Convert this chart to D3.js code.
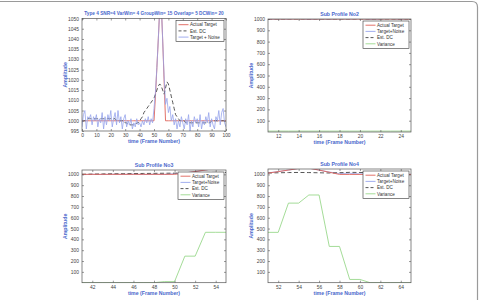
<!DOCTYPE html>
<html>
<head>
<meta charset="utf-8">
<script src="https://cdn.jsdelivr.net/npm/d3@7"></script>
<style>
  body { margin: 0; background: #fff; }
  svg { display: block; font-family: "Liberation Sans", Arial, sans-serif; }
</style>
</head>
<body>
<div id="chart-div"></div>
<script>
// frame numbers of the full profile
const frames = d3.range(0, 101);

// actual target, full profile 0..100
const actualTarget = [
  1000,1000,1000,1000,1000,1000,1000,1000,1000,1000,
  1000,1000,1000,1000,1000,1000,1000,1000,1000,1000,
  1000,1000,1000,1000,1000,1000,1000,1000,1000,1000,
  1000,1000,1000,1000,1000,1000,1000,1000,1000,1000,
  1000,1000,1000,1000,1000,1000,1000,1000,1000,1000,
  1000,1012,1026,1040,1055,1058,1040,1020,1000,1000,
  1000,1000,1000,1000,1000,1000,1000,1000,1000,1000,
  1000,1000,1000,1000,1000,1000,1000,1000,1000,1000,
  1000,1000,1000,1000,1000,1000,1000,1000,1000,1000,
  1000,1000,1000,1000,1000,1000,1000,1000,1000,1000,
  1000
];

// target + noise
const targetNoise = [
  997,1003,1005,996,1002,1001,1003,998,1002,1000,
  1003,997,1001,999,1004,996,1002,998,1003,1000,
  1005,997,1001,1004,998,1005,999,1002,996,1001,
  1003,997,1000,998,1001,996,999,997,1001,998,
  999,997,1000,998,1001,999,1002,998,1001,999,
  1006,1014,1026,1040,1055,1058,1040,1022,1008,1011,
  1004,1007,1000,1003,998,1001,996,1000,997,1002,
  999,996,1001,998,1003,995,1000,997,1002,999,
  1001,997,1003,996,1000,998,1002,999,1004,997,
  1001,998,996,1002,1000,1005,998,1004,1006,999,
  997
];

// estimated DC
const estDC = [
  1000,1000,1000,1000,1001,1001,1001,1001,1001,1001,
  1001,1001,1001,1001,1001,1001,1001,1001,1001,1001,
  1001,1001,1001,1001,1000,1000,1000,1000,1000,1000,
  999,999,998,998,998,998,998,998,999,999,
  1000,1001,1002,1004,1005,1006,1007,1008,1009,1010,
  1011,1013,1015,1017,1018,1017,1015,1013,1016,1019,
  1018,1015,1012,1009,1006,1003,1002,1001,1000,1000,
  1000,1000,999,999,999,999,999,999,999,999,
  999,999,999,999,999,999,999,999,999,999,
  1000,1000,1000,1000,1000,1000,1000,1000,1000,1000,
  1000
];

// variance for sub profiles
const framesNo2 = d3.range(11, 26);
const varianceNo2 = [8,8,8,8,8,8,8,8,8,8,8,8,8,8,8];
const framesNo3 = d3.range(41, 56);
const varianceNo3 = [0,0,0,0,0,0,0,0,10,10,245,245,465,465,465];
const framesNo4 = d3.range(51, 66);
const varianceNo4 = [465,465,735,735,810,810,335,335,30,30,0,0,0,0,0];

// tick labels
const ticksMainX = d3.range(0, 101, 10);
const ticksMainY = d3.range(995, 1051, 5);
const ticksSubY = d3.range(100, 1001, 100);
const ticksNo2X = [12, 14, 16, 18, 20, 22, 24];
const ticksNo3X = [42, 44, 46, 48, 50, 52, 54];
const ticksNo4X = [52, 54, 56, 58, 60, 62, 64];

const colRed = "#df6258", colBlue = "#97a5ec", colGreen = "#9ad88c", colDash = "#444";
const labelBlue = "#4a68cc";

const width = 483, height = 300;
const svg = d3.select("#chart-div").append("svg")
  .attr("width", width).attr("height", height);

// figure frame (top & right edge with rounded corner)
svg.append("path")
  .attr("d", "M0,1.5 H472 Q477.5,1.5 477.5,7 V300")
  .attr("fill", "none").attr("stroke", "#9a9a9a").attr("stroke-width", 1.2);

function slice(arr, fr, from, to) {
  return fr.map((f, i) => [f, arr[i]]).filter(d => d[0] >= from && d[0] <= to);
}

let clipId = 0;
function panel(cfg) {
  const x = d3.scaleLinear().domain(cfg.xDomain).range([cfg.left, cfg.right]);
  const y = d3.scaleLinear().domain(cfg.yDomain).range([cfg.bottom, cfg.top]);
  const g = svg.append("g");
  const id = "clip" + (clipId++);
  g.append("clipPath").attr("id", id).append("rect")
    .attr("x", cfg.left).attr("y", cfg.top)
    .attr("width", cfg.right - cfg.left).attr("height", cfg.bottom - cfg.top);

  const line = d3.line().x(d => x(d[0])).y(d => y(d[1]));
  const plot = g.append("g").attr("clip-path", `url(#${id})`);
  cfg.series.forEach(s => {
    plot.append("path").datum(s.data)
      .attr("d", line).attr("fill", "none")
      .attr("stroke", s.color).attr("stroke-width", s.width || 0.9)
      .attr("stroke-dasharray", s.dash || null);
  });

  // axes, MATLAB style ticks inside
  const axL = d3.axisLeft(y).tickValues(cfg.yTicks).tickSize(-2).tickPadding(3).tickFormat(d3.format("d"));
  const axR = d3.axisRight(y).tickValues(cfg.yTicks).tickSize(-2).tickFormat("");
  const axB = d3.axisBottom(x).tickValues(cfg.xTicks).tickSize(-2).tickPadding(3).tickFormat(d3.format("d"));
  const axT = d3.axisTop(x).tickValues(cfg.xTicks).tickSize(-2).tickFormat("");
  [[axL, `translate(${cfg.left},0)`], [axR, `translate(${cfg.right},0)`],
   [axB, `translate(0,${cfg.bottom})`], [axT, `translate(0,${cfg.top})`]].forEach(([ax, t]) => {
    const a = g.append("g").attr("transform", t).call(ax);
    a.select(".domain").remove();
    a.selectAll("line").attr("stroke", "#555").attr("stroke-width", 0.6);
    a.selectAll("text").attr("font-size", 4.9).attr("fill", "#444").attr("font-family", null);
  });
  g.append("rect").attr("x", cfg.left).attr("y", cfg.top)
    .attr("width", cfg.right - cfg.left).attr("height", cfg.bottom - cfg.top)
    .attr("fill", "none").attr("stroke", "#555").attr("stroke-width", 0.7);

  // title and labels
  const cx = (cfg.left + cfg.right) / 2;
  g.append("text").attr("x", cx).attr("y", cfg.top - 3.5).attr("text-anchor", "middle")
    .attr("font-size", cfg.titleSize || 5.2).attr("font-weight", "bold").attr("fill", labelBlue)
    .text(cfg.title);
  g.append("text").attr("x", cx).attr("y", cfg.bottom + 12).attr("text-anchor", "middle")
    .attr("font-size", 5.2).attr("font-weight", "bold").attr("fill", labelBlue)
    .text("time (Frame Number)");
  g.append("text")
    .attr("transform", `translate(${cfg.left - 15},${(cfg.top + cfg.bottom) / 2}) rotate(-90)`)
    .attr("text-anchor", "middle").attr("font-size", 5.2).attr("font-weight", "bold").attr("fill", labelBlue)
    .text("Amplitude");

  // legend
  const lg = cfg.legend;
  const rowH = 6.2;
  const lgH = lg.items.length * rowH + 2.5;
  const lgx = cfg.right - 2 - lg.w;
  const lgy = cfg.top + 2;
  g.append("rect").attr("x", lgx).attr("y", lgy).attr("width", lg.w).attr("height", lgH)
    .attr("fill", "#fff").attr("stroke", "#333").attr("stroke-width", 0.6);
  lg.items.forEach((it, i) => {
    const yy = lgy + 4.2 + i * rowH;
    g.append("line").attr("x1", lgx + 2.5).attr("x2", lgx + 12.5).attr("y1", yy).attr("y2", yy)
      .attr("stroke", it.color).attr("stroke-width", 0.9).attr("stroke-dasharray", it.dash || null);
    g.append("text").attr("x", lgx + 14).attr("y", yy + 1.7)
      .attr("font-size", 4.6).attr("fill", "#333").text(it.name);
  });
}

const legendSub = [
  { name: "Actual Target", color: colRed },
  { name: "Target+Noise", color: colBlue },
  { name: "Est. DC", color: colDash, dash: "3,2" },
  { name: "Variance", color: colGreen }
];

// main profile
panel({
  left: 82, right: 226, top: 18.5, bottom: 131,
  xDomain: [0, 100], yDomain: [995, 1050],
  xTicks: ticksMainX, yTicks: ticksMainY,
  title: "Type 4 SNR=4 VarWin= 4 GroupWin= 15 Overlap= 5 DCWin= 20", titleSize: 4.7,
  series: [
    { data: slice(actualTarget, frames, 0, 100), color: colRed },
    { data: slice(estDC, frames, 0, 100), color: colDash, dash: "4,2.5" },
    { data: slice(targetNoise, frames, 0, 100), color: colBlue, width: 0.8 }
  ],
  legend: { w: 48, items: [
    { name: "Actual Target", color: colRed },
    { name: "Est. DC", color: colDash, dash: "3,2" },
    { name: "Target + Noise", color: colBlue }
  ] }
});

function subPanel(box, fr, variance, xTicks, yMax, title) {
  const [a, b] = [fr[0], fr[fr.length - 1]];
  panel(Object.assign({}, box, {
    xDomain: [a, b], yDomain: [0, yMax],
    xTicks: xTicks, yTicks: ticksSubY, title: title,
    series: [
      { data: fr.map((f, i) => [f, variance[i]]), color: colGreen },
      { data: slice(targetNoise, frames, a, b), color: colBlue, width: 0.8 },
      { data: slice(estDC, frames, a, b), color: colDash, dash: "4,2.5" },
      { data: slice(actualTarget, frames, a, b), color: colRed }
    ],
    legend: { w: 46, items: legendSub }
  }));
}

subPanel({ left: 268, right: 411, top: 19, bottom: 132 }, framesNo2, varianceNo2, ticksNo2X, 1000, "Sub Profile No2");
subPanel({ left: 82, right: 226, top: 170, bottom: 282.7 }, framesNo3, varianceNo3, ticksNo3X, 1040, "Sub Profile No3");
subPanel({ left: 268, right: 411, top: 169, bottom: 282.7 }, framesNo4, varianceNo4, ticksNo4X, 1050, "Sub Profile No4");
</script>
</body>
</html>
